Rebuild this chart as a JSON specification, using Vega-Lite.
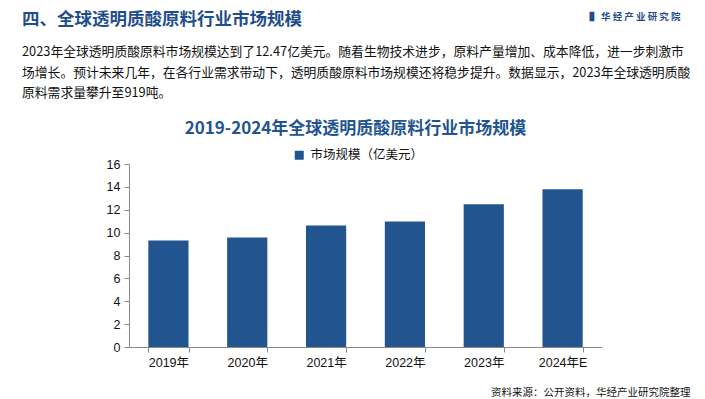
{
  "$schema": "https://vega.github.io/schema/vega-lite/v6.json",
  "autosize": {"type": "none"},
  "width": 473,
  "height": 183,
  "padding": {"left": 129, "top": 164, "right": 103, "bottom": 52},
  "background": "#ffffff",
  "title": {
    "text": "四、全球透明质酸原料行业市场规模",
    "subtitle": [
      "2023年全球透明质酸原料市场规模达到了12.47亿美元。随着生物技术进步，原料产量增加、成本降低，进一步刺激市",
      "场增长。预计未来几年，在各行业需求带动下，透明质酸原料市场规模还将稳步提升。数据显示，2023年全球透明质酸",
      "原料需求量攀升至919吨。"
    ],
    "anchor": "start",
    "frame": "group",
    "dx": -107,
    "offset": -89,
    "font": "Noto Sans CJK SC",
    "fontSize": 17.5,
    "fontWeight": "bold",
    "color": "#1F4E8C",
    "subtitleFont": "Noto Sans CJK SC",
    "subtitleFontSize": 12.8,
    "subtitleColor": "#111111",
    "subtitleLineHeight": 20.5,
    "subtitlePadding": 18
  },
  "data": {
    "values": [
      {"year": "2019年", "value": 9.32, "series": "市场规模（亿美元）"},
      {"year": "2020年", "value": 9.58, "series": "市场规模（亿美元）"},
      {"year": "2021年", "value": 10.63, "series": "市场规模（亿美元）"},
      {"year": "2022年", "value": 10.98, "series": "市场规模（亿美元）"},
      {"year": "2023年", "value": 12.47, "series": "市场规模（亿美元）"},
      {"year": "2024年E", "value": 13.79, "series": "市场规模（亿美元）"}
    ]
  },
  "layer": [
    {
      "mark": {"type": "bar", "color": "#22548F"},
      "encoding": {
        "x": {
          "field": "year",
          "type": "nominal",
          "sort": null,
          "scale": {"paddingInner": 0.49, "paddingOuter": 0.245},
          "axis": {
            "title": "资料来源：公开资料，华经产业研究院整理",
            "titleX": 561,
            "titleY": 45,
            "titleAlign": "right",
            "titleBaseline": "middle",
            "titleFont": "Noto Sans CJK SC",
            "titleFontSize": 10.5,
            "titleFontWeight": "normal",
            "titleColor": "#111111",
            "labelAngle": 0,
            "labelFont": "Liberation Sans, Noto Sans CJK SC",
            "labelFontSize": 12.5,
            "labelColor": "#111111",
            "labelPadding": 4,
            "tickBand": "extent",
            "tickSize": 5,
            "tickColor": "#888888",
            "domainColor": "#888888",
            "grid": false
          }
        },
        "y": {
          "field": "value",
          "type": "quantitative",
          "scale": {"domain": [0, 16], "nice": false},
          "axis": {
            "values": [0, 2, 4, 6, 8, 10, 12, 14, 16],
            "title": "2019-2024年全球透明质酸原料行业市场规模",
            "titleAngle": 0,
            "titleX": 226,
            "titleY": -36,
            "titleAlign": "center",
            "titleBaseline": "middle",
            "titleFont": "Noto Sans CJK SC",
            "titleFontSize": 17,
            "titleFontWeight": "bold",
            "titleColor": "#22548F",
            "labelFont": "Liberation Sans",
            "labelFontSize": 12.5,
            "labelColor": "#111111",
            "labelPadding": 4,
            "tickSize": 5,
            "tickColor": "#888888",
            "domainColor": "#888888",
            "grid": false
          }
        },
        "color": {
          "field": "series",
          "type": "nominal",
          "scale": {"range": ["#22548F"]},
          "legend": {
            "orient": "none",
            "legendX": 164,
            "legendY": -15,
            "title": null,
            "symbolType": "square",
            "symbolSize": 81,
            "symbolStrokeWidth": 0,
            "labelFont": "Noto Sans CJK SC",
            "labelFontSize": 12.5,
            "labelColor": "#111111",
            "labelOffset": 5
          }
        }
      }
    },
    {
      "mark": {"type": "bar", "opacity": 0},
      "encoding": {
        "x": {"field": "year", "type": "nominal", "sort": null},
        "y": {
          "field": "value",
          "type": "quantitative",
          "axis": {
            "orient": "right",
            "labels": false,
            "ticks": false,
            "domain": false,
            "grid": false,
            "title": "▌ 华 经 产 业 研 究 院",
            "titleAngle": 0,
            "titleX": 78,
            "titleY": -148,
            "titleAlign": "right",
            "titleBaseline": "middle",
            "titleFont": "Noto Sans CJK SC",
            "titleFontSize": 9.5,
            "titleFontWeight": "bold",
            "titleColor": "#1F4E8C"
          }
        }
      }
    }
  ],
  "resolve": {"axis": {"y": "independent"}},
  "config": {"view": {"stroke": null}}
}
